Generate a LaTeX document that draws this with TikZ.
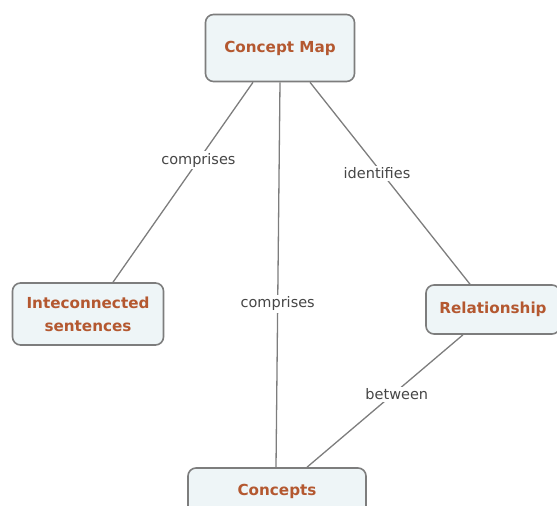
\documentclass[tikz,border=0pt]{standalone}
\usepackage{fontspec}
\setmainfont{DejaVu Sans}
\usetikzlibrary{positioning}

\definecolor{boxfill}{RGB}{238,245,247}
\definecolor{boxline}{RGB}{125,125,125}
\definecolor{conceptred}{RGB}{180,88,48}
\definecolor{linkgray}{RGB}{70,70,70}

\tikzset{
  concept/.style={draw=boxline, line width=1.6pt, fill=boxfill, rounded corners=8pt,
    font=\bfseries\fontsize{15.2}{23}\selectfont, text=conceptred, align=center, inner sep=2pt},
  link/.style={draw=boxline, line width=1.3pt},
  linklabel/.style={fill=white, text=linkgray, font=\fontsize{14.5}{16}\selectfont, inner sep=2pt}
}

\begin{document}
\begin{tikzpicture}[x=1pt, y=-1pt]
\useasboundingbox (0,0) rectangle (557,506);

% Conceptos
\node[concept, minimum width=149pt, minimum height=67pt] (map) at (280,48) {Concept Map};
\node[concept, minimum width=151pt, minimum height=62pt] (sent) at (88,314) {Inteconnected\\sentences};
\node[concept, minimum width=134pt, minimum height=49pt] (rel) at (493,309.5) {Relationship};
\node[concept, minimum width=178pt, minimum height=46pt] (conc) at (277,491) {Concepts};

% Enlaces
\draw[link] ([xshift=-27pt]map.south) -- node[linklabel, pos=0.39] (l1) {comprises} ([xshift=25pt]sent.north);
\draw[link] (map.south) -- node[linklabel, pos=0.575] (l2) {comprises} ([xshift=-1pt]conc.north);
\draw[link] ([xshift=30pt]map.south) -- node[linklabel, pos=0.45, xshift=-5pt] (l3) {identifies} ([xshift=-23pt]rel.north);
\draw[link] ([xshift=-30pt]rel.south) -- node[linklabel, pos=0.45, xshift=4pt] (l4) {between} ([xshift=30pt]conc.north);
\end{tikzpicture}
\end{document}
